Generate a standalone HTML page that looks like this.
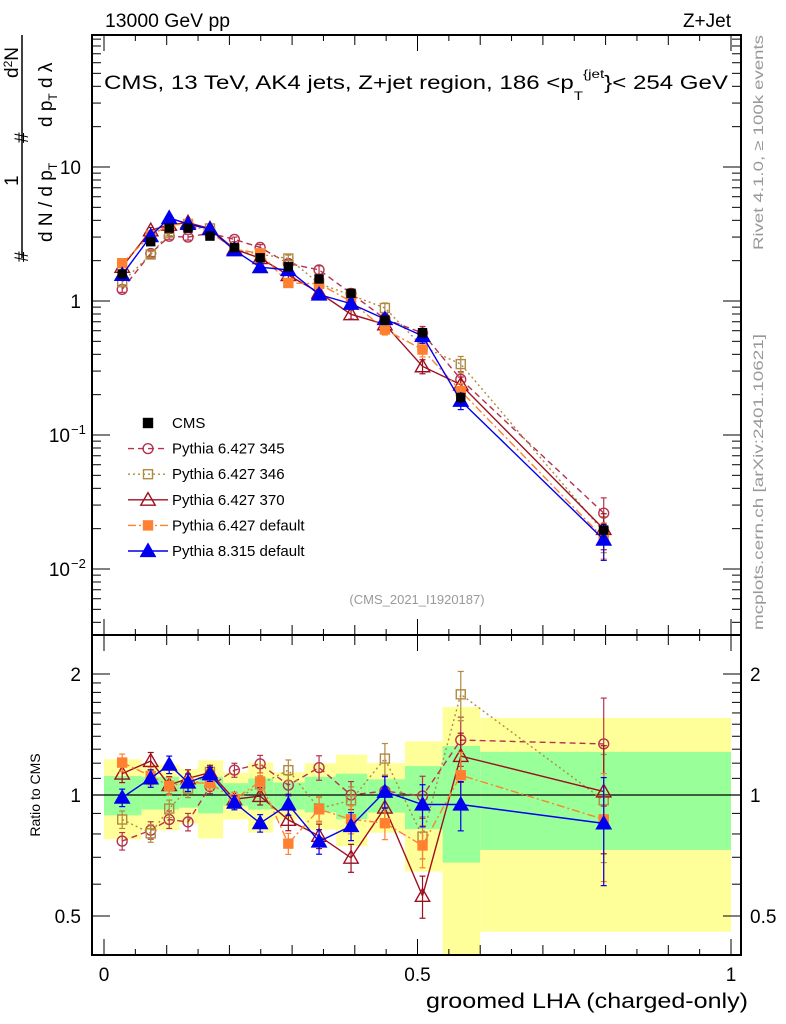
<!DOCTYPE html>
<html><head><meta charset="utf-8">
<style>
html,body{margin:0;padding:0;background:#fff;}
svg{display:block;font-family:"Liberation Sans",sans-serif;}
</style></head>
<body>
<svg id="chart" width="786" height="1024" viewBox="0 0 786 1024" xmlns="http://www.w3.org/2000/svg">
<defs>
<clipPath id="clipMain"><rect x="92" y="35" width="649" height="600"/></clipPath>
<clipPath id="clipRatio"><rect x="92" y="635" width="649" height="320"/></clipPath>
</defs>
<g id="bands" clip-path="url(#clipRatio)"></g>
<g id="ratioMarks" clip-path="url(#clipRatio)"></g>
<g id="mainMarks" clip-path="url(#clipMain)"></g>
<g id="axes"></g>
<text x="105" y="27" font-size="19" textLength="125" lengthAdjust="spacingAndGlyphs">13000 GeV pp</text>
<text x="731" y="27" font-size="19" text-anchor="end">Z+Jet</text>
<text x="104" y="89" font-size="19" textLength="624" lengthAdjust="spacingAndGlyphs">CMS, 13 TeV, AK4 jets, Z+jet region, 186 &lt;p<tspan font-size="12" dy="11">T</tspan><tspan font-size="12" dy="-22">{jet</tspan><tspan dy="11">}&lt; 254 GeV</tspan></text>
<text x="417" y="604" font-size="13" fill="#999" text-anchor="middle">(CMS_2021_I1920187)</text>
<g transform="rotate(-90)">
<text x="-250" y="763" font-size="14" fill="#999" textLength="215" lengthAdjust="spacingAndGlyphs">Rivet 4.1.0, ≥ 100k events</text>
<text x="-630" y="763" font-size="14" fill="#999" textLength="296" lengthAdjust="spacingAndGlyphs">mcplots.cern.ch [arXiv:2401.10621]</text>
</g>
<line x1="22" y1="35" x2="22" y2="258" stroke="#000" stroke-width="1.5"/>
<g transform="rotate(-90)" font-size="19">
<text x="-262" y="28">#</text>
<text x="-186" y="18">1</text>
<text x="-242" y="52">d N / d p<tspan font-size="12" dy="5">T</tspan></text>
<text x="-143" y="28">#</text>
<text x="-78" y="18">d<tspan font-size="12" dy="-6">2</tspan><tspan dy="6">N</tspan></text>
<text x="-127" y="52">d p<tspan font-size="12" dy="5">T</tspan><tspan dy="-5"> d λ</tspan></text>
<text x="-795" y="40" font-size="14" text-anchor="middle">Ratio to CMS</text>
</g>
<text x="748" y="1008" font-size="21" text-anchor="end" textLength="322" lengthAdjust="spacingAndGlyphs">groomed LHA (charged-only)</text>
<g id="legend"></g>
</svg>
<script>
const xVals=[0.029,0.0745,0.104,0.134,0.169,0.208,0.249,0.294,0.343,0.394,0.448,0.508,0.569,0.797];
const binEdges=[0,0.06,0.12,0.15,0.19,0.23,0.27,0.32,0.37,0.42,0.48,0.54,0.6,1.0];
const cmsVals=[1.59,2.77,3.5,3.5,3.05,2.5,2.1,1.8,1.46,1.14,0.72,0.58,0.19,0.0195];
const cmsErr=[0.05,0.04,0.04,0.04,0.04,0.05,0.05,0.05,0.06,0.07,0.08,0.08,0.1,0.12];
const r345=[0.768,0.817,0.869,0.857,1.05,1.153,1.195,1.058,1.17,1.0,1.023,0.994,1.37,1.34];
const r346=[0.869,0.803,0.925,1.037,1.141,0.966,1.063,1.153,0.925,0.97,1.232,0.788,1.78,0.97];
const r370=[1.13,1.215,1.058,1.10,1.137,0.976,0.994,0.867,0.791,0.698,0.93,0.561,1.25,1.02];
const r6def=[1.204,1.115,1.053,1.074,1.07,0.976,1.08,0.757,0.921,0.87,0.851,0.749,1.12,0.87];
const r8def=[0.985,1.10,1.19,1.074,1.126,0.957,0.851,0.947,0.766,0.837,1.019,0.947,0.947,0.85];
const modelErr=[0.05,0.05,0.05,0.05,0.04,0.04,0.05,0.06,0.07,0.08,0.09,0.12,0.14,0.3];
const yellowUp=[1.227,1.19,1.16,1.22,1.137,1.204,1.14,1.2,1.26,1.2,1.36,1.655,1.555];
const yellowDn=[0.776,0.817,0.85,0.78,0.869,0.806,0.87,0.82,0.746,0.806,0.645,0.3,0.457];
const greenUp=[1.115,1.11,1.08,1.11,1.07,1.1,1.074,1.11,1.13,1.094,1.18,1.324,1.28];
const greenDn=[0.89,0.92,0.93,0.90,0.94,0.92,0.92,0.905,0.87,0.904,0.822,0.679,0.73];
const legendLabels=["CMS","Pythia 6.427 345","Pythia 6.427 346","Pythia 6.427 370","Pythia 6.427 default","Pythia 8.315 default"];
const mainTickLabels=["10","1","10","10"];

const NS="http://www.w3.org/2000/svg";
const X0=92,X1=741,MT=35,MB=635,RB=955;
function xp(v){return 104+627*v;}
function yMain(v){return 301-134*Math.log10(v);}
function yRat(r){return 795-402*Math.log10(r);}
function mk(tag,attrs,parent){const e=document.createElementNS(NS,tag);for(const k in attrs)e.setAttribute(k,attrs[k]);parent.appendChild(e);return e;}

const series=[
 {key:"p345",ratio:r345,color:"#b5334f",dash:"6,4",marker:"circle",fill:false},
 {key:"p346",ratio:r346,color:"#b08a40",dash:"2,3",marker:"square",fill:false},
 {key:"p370",ratio:r370,color:"#9e1020",dash:"",marker:"triangle",fill:false},
 {key:"p6def",ratio:r6def,color:"#ff8030",dash:"8,3,2,3",marker:"square",fill:true},
 {key:"p8def",ratio:r8def,color:"#0000ee",dash:"",marker:"triangle",fill:true}
];

function marker(g,type,x,y,color,fill,size){
 let e;
 if(type==="circle") e=mk("circle",{cx:x,cy:y,r:size*0.55,fill:"none",stroke:color,"stroke-width":1.4},g);
 else if(type==="square") e=mk("rect",{x:x-size/2,y:y-size/2,width:size,height:size,fill:fill?color:"none",stroke:color,"stroke-width":1.4},g);
 else e=mk("polygon",{points:`${x},${y-size*0.6} ${x-size*0.6},${y+size*0.45} ${x+size*0.6},${y+size*0.45}`,fill:fill?color:"none",stroke:color,"stroke-width":1.4},g);
 return e;
}

const bandG=document.getElementById('bands');
for(let i=0;i<yellowUp.length;i++){
 const xa=xp(binEdges[i]),xb=xp(binEdges[i+1]);
 const yb=mk("rect",{x:xa,y:yRat(yellowUp[i]),width:xb-xa,height:yRat(yellowDn[i])-yRat(yellowUp[i]),fill:"#ffff99"},bandG);
 
 
 const gb=mk("rect",{x:xa,y:yRat(greenUp[i]),width:xb-xa,height:yRat(greenDn[i])-yRat(greenUp[i]),fill:"#99ff99"},bandG);
 
 
}
mk("line",{x1:X0,x2:X1,y1:yRat(1),y2:yRat(1),stroke:"#000","stroke-width":1.2},bandG);

const mainG=document.getElementById('mainMarks');
const ratG=document.getElementById('ratioMarks');
series.forEach(s=>{
 const vals=s.ratio.map((r,i)=>r*cmsVals[i]);
 const gm=mk("g",{},mainG);
 
 
 const gr=mk("g",{},ratG);
 
 
 const pm=vals.map((v,i)=>xp(xVals[i])+","+yMain(v)).join(" ");
 const pr=s.ratio.map((r,i)=>xp(xVals[i])+","+yRat(r)).join(" ");
 const la={fill:"none",stroke:s.color,"stroke-width":1.4};
 if(s.dash)la["stroke-dasharray"]=s.dash;
 mk("polyline",Object.assign({points:pm},la),gm);
 mk("polyline",Object.assign({points:pr},la),gr);
 vals.forEach((v,i)=>{
  const x=xp(xVals[i]),e=modelErr[i];
  [[gm,yMain(v*(1+e)),yMain(v*(1-e)),yMain(v)],[gr,yRat(s.ratio[i]*(1+e)),yRat(s.ratio[i]*(1-e)),yRat(s.ratio[i])]].forEach(([g,ya,yb,yc])=>{
   mk("line",{x1:x,x2:x,y1:ya,y2:yb,stroke:s.color,"stroke-width":1.2},g);
   mk("line",{x1:x-3,x2:x+3,y1:ya,y2:ya,stroke:s.color,"stroke-width":1.2},g);
   mk("line",{x1:x-3,x2:x+3,y1:yb,y2:yb,stroke:s.color,"stroke-width":1.2},g);
   const m=marker(g,s.marker,x,yc,s.color,s.fill,s.marker==="triangle"?12:9);
   
   
  });
 });
});
const cmsG=mk("g",{},mainG);


cmsVals.forEach((v,i)=>{
 const x=xp(xVals[i]),e=cmsErr[i];
 mk("line",{x1:x,x2:x,y1:yMain(v*(1+e)),y2:yMain(v*(1-e)),stroke:"#000","stroke-width":1.2},cmsG);
 const m=marker(cmsG,"square",x,yMain(v),"#000",true,8);
 
 
});

const ax=document.getElementById('axes');
mk("rect",{x:X0,y:MT,width:X1-X0,height:MB-MT,fill:"none",stroke:"#000","stroke-width":2},ax);
mk("rect",{x:X0,y:MB,width:X1-X0,height:RB-MB,fill:"none",stroke:"#000","stroke-width":2},ax);
for(let k=0;k<=20;k++){
 const v=k*0.05,x=xp(v);
 const L=(k%10===0)?16:(k%2===0?10:6);
 [[MT,1],[MB,-1],[MB,1],[RB,-1]].forEach(([y0,d])=>mk("line",{x1:x,x2:x,y1:y0,y2:y0+d*L,stroke:"#000","stroke-width":1},ax));
}
[["0",0],["0.5",0.5],["1",1]].forEach(([t,v])=>{
 const e=mk("text",{x:xp(v),y:981,"font-size":19,"text-anchor":"middle"},ax);e.textContent=t;
 
 
});
for(let d=-3;d<=1;d++){
 for(let m=1;m<=9;m++){
  const v=m*Math.pow(10,d),y=yMain(v);
  if(y<MT||y>MB)continue;
  const L=m===1?18:9;
  mk("line",{x1:X0,x2:X0+L,y1:y,y2:y,stroke:"#000","stroke-width":1},ax);
  mk("line",{x1:X1,x2:X1-L,y1:y,y2:y,stroke:"#000","stroke-width":1},ax);
 }
}
[[10,mainTickLabels[0],""],[1,mainTickLabels[1],""],[0.1,mainTickLabels[2],"−1"],[0.01,mainTickLabels[3],"−2"]].forEach(([v,t,ex])=>{
 const e=mk("text",{x:ex?70:81,y:yMain(v)+7,"font-size":19,"text-anchor":"end"},ax);
 e.textContent=t;
 
 
 if(ex){const s=mk("text",{x:71,y:yMain(v)-1,"font-size":13},ax);s.textContent=ex;}
});
const rt=[0.4,0.5,0.6,0.7,0.8,0.9,1,1.1,1.2,1.3,1.4,1.5,1.6,1.7,1.8,1.9,2];
rt.forEach(r=>{
 const y=yRat(r),L=(r===0.5||r===1||r===2)?18:9;
 mk("line",{x1:X0,x2:X0+L,y1:y,y2:y,stroke:"#000","stroke-width":1},ax);
 mk("line",{x1:X1,x2:X1-L,y1:y,y2:y,stroke:"#000","stroke-width":1},ax);
});
[["2",2],["1",1],["0.5",0.5]].forEach(([t,r])=>{
 const a=mk("text",{x:81,y:yRat(r)+7,"font-size":19,"text-anchor":"end"},ax);a.textContent=t;
 
 
 const b=mk("text",{x:750,y:yRat(r)+7,"font-size":19},ax);b.textContent=t;
 
 
});
const lg=document.getElementById('legend');
const legStyles=[{color:"#000",dash:null,marker:"square",fill:true}].concat(series);
legendLabels.forEach((t,i)=>{
 const y=423+25.6*i,s=legStyles[i];
 const g=mk("g",{},lg);
 
 
 if(s.dash!==null){const la={x1:128,x2:168,y1:y,y2:y,stroke:s.color,"stroke-width":1.4};if(s.dash)la["stroke-dasharray"]=s.dash;mk("line",la,g);}
 marker(g,s.marker,148,y,s.color,s.fill,s.marker==="triangle"?12:9);
 const e=mk("text",{x:172,y:y+5,"font-size":15},g);e.textContent=t;
});
</script>
</body></html>
